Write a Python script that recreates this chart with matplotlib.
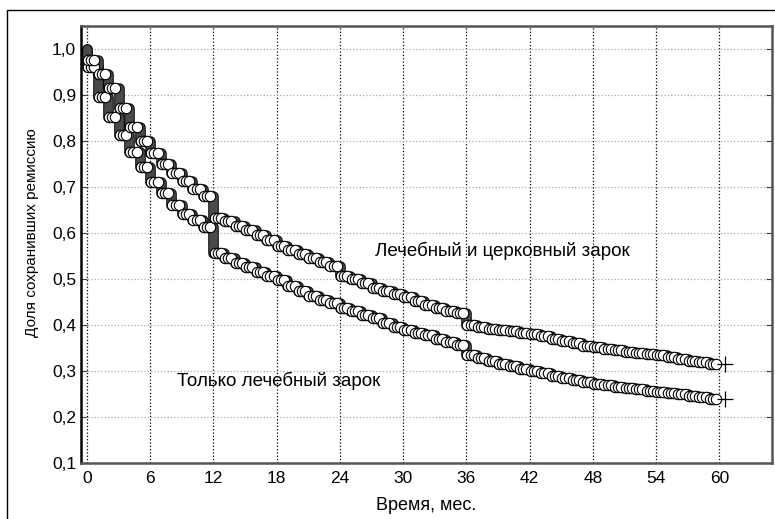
import numpy as np
import matplotlib
matplotlib.use("Agg")
import matplotlib.pyplot as plt
import matplotlib.patches as patches
import matplotlib.patheffects as pe

plt.rcParams['font.family'] = ['Liberation Sans', 'DejaVu Sans']

# survival value after the drop at each month (0..59)
months = list(range(60))
both_vows = [0.975, 0.945, 0.915, 0.870, 0.830, 0.800, 0.773, 0.750, 0.730, 0.712,
             0.695, 0.680, 0.633, 0.625, 0.615, 0.605, 0.595, 0.585, 0.572, 0.563,
             0.553, 0.545, 0.537, 0.528, 0.507, 0.500, 0.490, 0.480, 0.474, 0.467,
             0.460, 0.452, 0.444, 0.437, 0.431, 0.425, 0.400, 0.395, 0.392, 0.389,
             0.386, 0.383, 0.380, 0.375, 0.370, 0.365, 0.360, 0.355, 0.351, 0.348,
             0.345, 0.342, 0.339, 0.336, 0.334, 0.330, 0.326, 0.322, 0.319, 0.314]
medical_only = [0.960, 0.895, 0.851, 0.812, 0.775, 0.742, 0.710, 0.686, 0.660, 0.640,
                0.627, 0.612, 0.555, 0.545, 0.535, 0.525, 0.515, 0.505, 0.497, 0.485,
                0.473, 0.463, 0.455, 0.447, 0.437, 0.429, 0.421, 0.414, 0.405, 0.396,
                0.388, 0.383, 0.377, 0.370, 0.363, 0.357, 0.335, 0.327, 0.322, 0.316,
                0.310, 0.305, 0.300, 0.295, 0.290, 0.285, 0.280, 0.276, 0.272, 0.269,
                0.266, 0.263, 0.260, 0.257, 0.255, 0.252, 0.249, 0.246, 0.243, 0.240]
censor_offsets = [0.1, 0.4, 0.7]   # censored marks inside each month
end_time = 60.5

label_both = "Лечебный и церковный зарок"
label_med = "Только лечебный зарок"
x_ticks = list(range(0, 61, 6))
y_ticks = [0.1, 0.2, 0.3, 0.4, 0.5, 0.6, 0.7, 0.8, 0.9, 1.0]

fig = plt.figure(figsize=(7.75, 5.19), dpi=100)
ax = fig.add_axes([81/775, 1-463/519, (772-81)/775, (463-25.5)/519])

# outer frame of the picture
fig.patches.append(patches.Rectangle((7/775, -0.1), 1.2, 1.1 - 10/519,
                                     transform=fig.transFigure, fill=False,
                                     edgecolor='black', lw=1.0, clip_on=False))

for surv in (medical_only, both_vows):
    prev = [1.0] + surv[:-1]
    # stacked event marks at the drops
    ax.vlines(months, surv, prev, color='#4a4a4a', lw=6.2, capstyle='round', zorder=3,
              path_effects=[pe.Stroke(linewidth=7.6, foreground='black', capstyle='round'),
                            pe.Normal()])
    t = [m + o for m in months for o in censor_offsets]
    s = [v for v in surv for o in censor_offsets]
    ax.plot(t, s, 'o', ms=7.5, mfc='white', mec='black', mew=0.8, zorder=4)
    ax.plot([end_time], [surv[-1]], '+', ms=11, color='black', mew=0.9, zorder=5)

ax.text(27.3, 0.56, label_both, fontsize=13.5, ha='left', va='center')
ax.text(8.5, 0.279, label_med, fontsize=13.5, ha='left', va='center')

ax.set_xlim(-0.57, 65)
ax.set_ylim(0.1, 1.05)
ax.set_xticks(x_ticks)
ax.set_yticks(y_ticks)
ax.set_yticklabels([f"{v:.1f}".replace('.', ',') for v in y_ticks])
ax.tick_params(labelsize=12.5, direction='in', length=4, right=True, color='#404040')
ax.tick_params(axis='x', length=0, pad=6)

ax.grid(axis='x', color='black', linestyle=':', lw=0.9)
ax.grid(axis='y', color='#aaaaaa', linestyle=':', lw=0.9)
ax.set_axisbelow(True)
for side in ax.spines:
    ax.spines[side].set_color('#555555')
    ax.spines[side].set_linewidth(1.8)
ax.spines['left'].set_color('black')

ax.set_xlabel("Время, мес.", fontsize=13, labelpad=8)
ax.set_ylabel("Доля сохранивших ремиссию", fontsize=11)
ax.yaxis.set_label_coords(-0.061, 0.527)

fig.savefig("out.png", dpi=100)
